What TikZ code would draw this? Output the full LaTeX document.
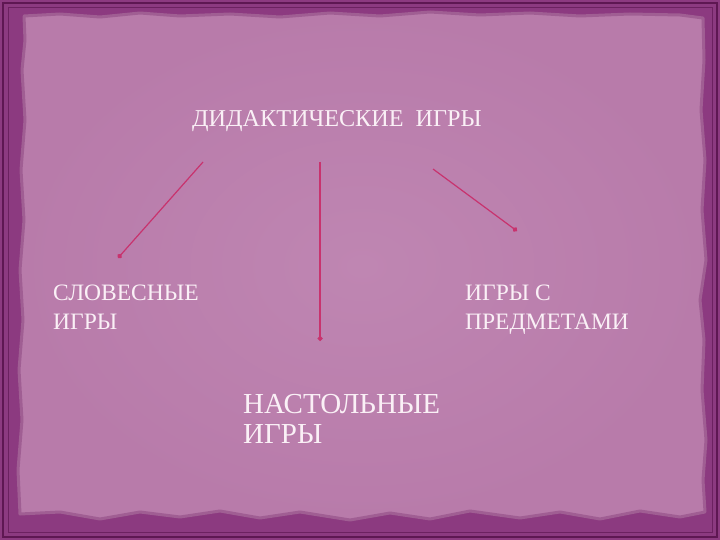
\documentclass[tikz,border=0pt]{standalone}
\usepackage{fontspec}
\setmainfont{Liberation Serif}
\usetikzlibrary{arrows.meta}
\definecolor{frameC}{HTML}{8C3A80}
\definecolor{frameDark}{HTML}{5E1752}
\definecolor{paperC}{HTML}{B87BAA}
\definecolor{paperIn}{HTML}{BF86B2}
\definecolor{paperEdge}{HTML}{A05E93}
\definecolor{txtC}{HTML}{FAF0F6}
\definecolor{arrC}{HTML}{C8336E}
\begin{document}
\begin{tikzpicture}[x=1pt,y=-1pt,
  lbl/.style={text=txtC, inner sep=0pt, anchor=north west, align=left,
    font=\fontsize{23.5}{29}\selectfont},
  bigl/.style={text=txtC, inner sep=0pt, anchor=north west, align=left,
    font=\fontsize{29}{30}\selectfont},
  ttl/.style={text=txtC, inner sep=0pt, anchor=base west,
    font=\fontsize{24.2}{28}\selectfont},
  arr/.style={draw=arrC, line width=1.2pt, -{Circle[length=5pt]}}]
\useasboundingbox (0,0) rectangle (720,540);
% frame
\fill[frameC] (0,0) rectangle (720,540);
\draw[frameDark, line width=2pt] (3,3) rectangle (717,537);
\draw[frameDark!70!frameC, line width=1pt] (8,8) rectangle (712,532);
% paper
\shadedraw[inner color=paperIn, outer color=paperC, draw=paperEdge, line width=3pt, line join=round]
 (24,16) -- (60,14) -- (100,17) -- (140,13) -- (180,16) -- (230,14) -- (280,17)
 -- (330,13) -- (380,16) -- (430,12) -- (480,15) -- (530,13) -- (580,16)
 -- (630,14) -- (680,15) -- (703,18)
 -- (704,60) -- (701,110) -- (705,160) -- (702,210) -- (706,260) -- (700,300)
 -- (704,340) -- (702,390) -- (706,440) -- (703,480) -- (705,512)
 -- (680,517) -- (640,511) -- (600,519) -- (560,512) -- (520,518) -- (470,511)
 -- (430,519) -- (390,513) -- (350,520) -- (300,512) -- (260,518) -- (220,511)
 -- (180,517) -- (140,512) -- (100,519) -- (60,512) -- (20,514)
 -- (18,470) -- (22,420) -- (19,370) -- (23,320) -- (20,270) -- (24,220)
 -- (21,170) -- (25,120) -- (22,70) -- (25,40) -- cycle;
% texts
\node[ttl] (title) at (192,127) {ДИДАКТИЧЕСКИЕ\ \ ИГРЫ};
\node[lbl] (slov) at (53,285) {СЛОВЕСНЫЕ\\ИГРЫ};
\node[lbl] (pred) at (465,285) {ИГРЫ С\\ПРЕДМЕТАМИ};
\node[bigl] (nast) at (243,394) {НАСТОЛЬНЫЕ\\ИГРЫ};
% arrows
\coordinate (aL1) at (203,162);
\coordinate (aL2) at (118,258);
\coordinate (aM1) at (320,162);
\coordinate (aM2) at (320,341);
\coordinate (aR1) at (433,169);
\coordinate (aR2) at (517,231);
\draw[arr] (aL1) -- (aL2);
\draw[arr] (aM1) -- (aM2);
\draw[arr] (aR1) -- (aR2);
\end{tikzpicture}
\end{document}
